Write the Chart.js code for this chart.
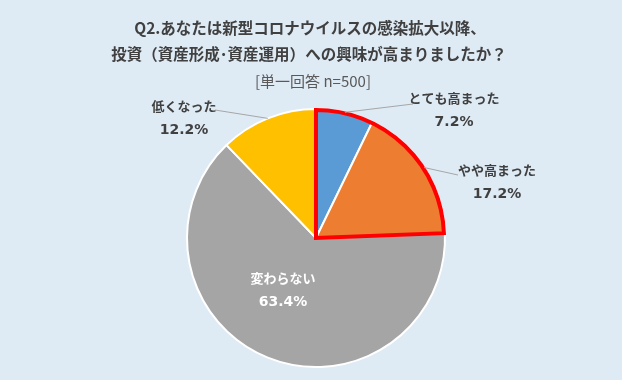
<!DOCTYPE html>
<html lang="ja">
<head>
<meta charset="utf-8">
<script src="https://cdn.jsdelivr.net/npm/chart.js@4.4.0/dist/chart.umd.min.js"></script>
<style>
  html, body { margin: 0; padding: 0; background: #deeaf4; }
  #wrap { width: 622px; height: 380px; position: relative; }
</style>
</head>
<body>
<div id="wrap"><canvas id="myChart"></canvas></div>
<script>
const categories = ['とても高まった', 'やや高まった', '変わらない', '低くなった'];
const percents = [7.2, 17.2, 63.4, 12.2];
const sliceColors = ['#5b9bd5', '#ed7d31', '#a5a5a5', '#ffc000'];
const titleLines = ['Q2.あなたは新型コロナウイルスの感染拡大以降、', '投資（資産形成･資産運用）への興味が高まりましたか？'];
const subTitle = '[単一回答 n=500]';

const FONT = '"Noto Sans CJK JP", "Noto Sans", sans-serif';
const NUM_FONT = '"DejaVu Sans", sans-serif';

// label placement per slice: text centre, and where the leader line ends
const labelLayout = [
    { x: 454, y: 98, line: [413, 104], color: '#404040' },
    { x: 497, y: 170, line: [458, 175], color: '#404040' },
    { x: 283, y: 278, line: null, color: '#ffffff' },
    { x: 184, y: 106, line: [215, 110], color: '#404040' }
];

const titlePlugin = {
    id: 'titleText',
    afterDraw(chart) {
        const ctx = chart.ctx;
        ctx.save();
        ctx.textAlign = 'center';
        ctx.textBaseline = 'middle';
        ctx.fillStyle = '#404040';
        ctx.font = 'bold 15.5px ' + FONT;
        ctx.fillText(titleLines[0], 310, 28);
        ctx.fillText(titleLines[1], 309, 54);
        ctx.fillStyle = '#595959';
        ctx.font = '15px ' + FONT;
        ctx.fillText(subTitle, 313, 81);
        ctx.restore();
    }
};

const outlinePlugin = {
    id: 'redOutline',
    afterDatasetsDraw(chart) {
        const arcs = chart.getDatasetMeta(0).data;
        const a = arcs[0], b = arcs[1];
        const ctx = chart.ctx;
        ctx.save();
        ctx.beginPath();
        ctx.moveTo(a.x, a.y);
        ctx.arc(a.x, a.y, a.outerRadius - 1, a.startAngle, b.endAngle);
        ctx.closePath();
        ctx.lineWidth = 4;
        ctx.lineJoin = 'miter';
        ctx.strokeStyle = '#ff0000';
        ctx.stroke();
        ctx.restore();
    }
};

const labelPlugin = {
    id: 'sliceLabels',
    afterDraw(chart) {
        const arcs = chart.getDatasetMeta(0).data;
        const ctx = chart.ctx;
        ctx.save();
        arcs.forEach((arc, i) => {
            const lay = labelLayout[i];
            if (lay.line) {
                const mid = (arc.startAngle + arc.endAngle) / 2;
                const r = arc.outerRadius;
                ctx.beginPath();
                ctx.moveTo(arc.x + Math.cos(mid) * r, arc.y + Math.sin(mid) * r);
                ctx.lineTo(lay.line[0], lay.line[1]);
                ctx.strokeStyle = '#a6a6a6';
                ctx.lineWidth = 1;
                ctx.stroke();
            }
            ctx.fillStyle = lay.color;
            ctx.textAlign = 'center';
            ctx.textBaseline = 'middle';
            ctx.font = 'bold 13px ' + FONT;
            ctx.fillText(categories[i], lay.x, lay.y);
            ctx.font = 'bold 14px ' + NUM_FONT;
            ctx.fillText(percents[i].toFixed(1) + '%', lay.x, lay.y + 24);
        });
        ctx.restore();
    }
};

new Chart(document.getElementById('myChart'), {
    type: 'pie',
    data: {
        labels: categories,
        datasets: [{
            data: percents,
            backgroundColor: sliceColors,
            borderColor: '#ffffff',
            borderWidth: 2
        }]
    },
    options: {
        responsive: true,
        maintainAspectRatio: false,
        animation: false,
        layout: {
            padding: { top: 108, bottom: 12, left: 186, right: 176 }
        },
        plugins: {
            legend: { display: false },
            tooltip: { enabled: false }
        }
    },
    plugins: [titlePlugin, outlinePlugin, labelPlugin]
});
</script>
</body>
</html>
